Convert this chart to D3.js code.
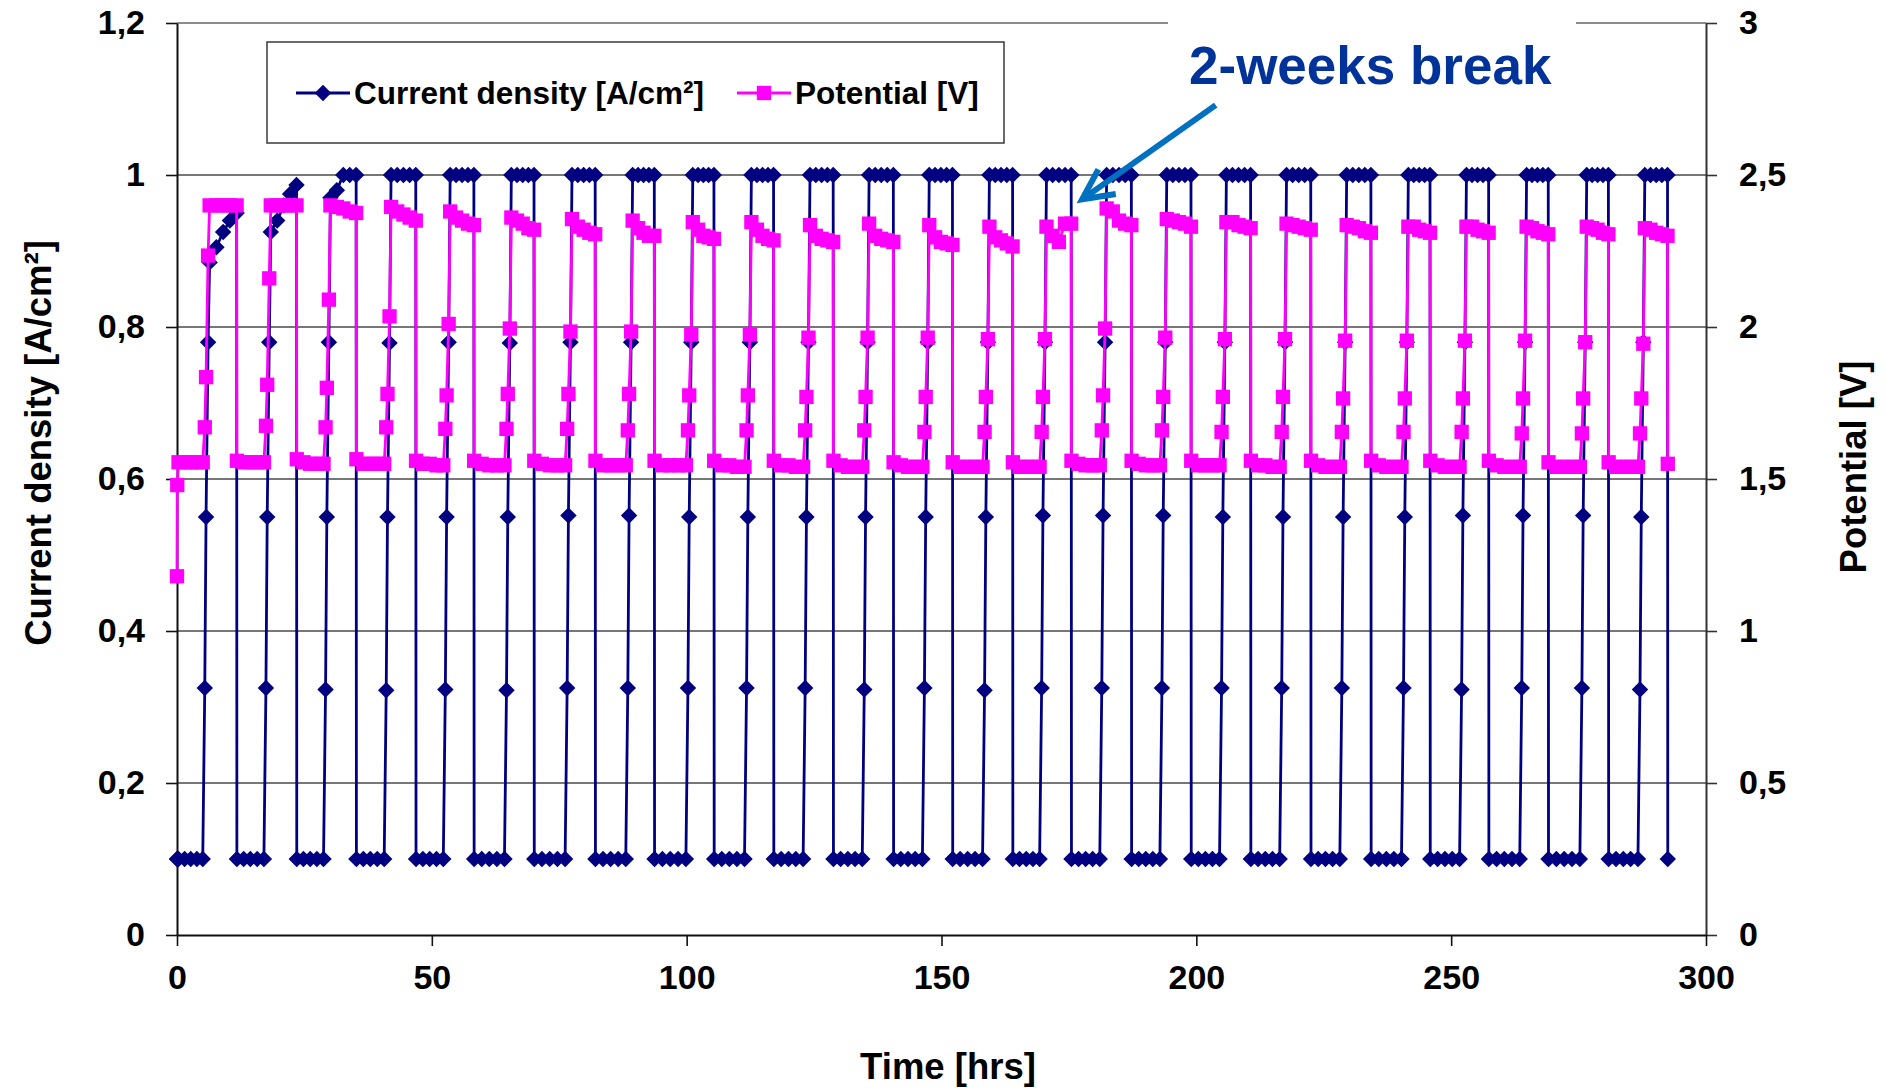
<!DOCTYPE html>
<html>
<head>
<meta charset="utf-8">
<script src="https://d3js.org/d3.v7.min.js"></script>
<style>
  body { margin: 0; background: #fff; }
  text { font-family: "Liberation Sans", Arial, sans-serif; font-weight: bold; }
</style>
</head>
<body>
<svg id="chart" width="1886" height="1088"></svg>
<script>
// ---- data (one row per on/off cycle) ----
const timeHrs = [
  0, 0.05, 0.3, 1.5, 2.7, 3.9, 5.05, 5.45, 5.7, 6.1, 6.4, 7.73, 9.05, 10.38, 11.7,
  11.75, 13.08, 14.4, 15.73, 17.05, 17.45, 17.7, 18.1, 18.4, 19.66, 20.93, 22.19, 23.45,
  23.5, 24.81, 26.13, 27.44, 28.75, 29.15, 29.4, 29.8, 30.1, 31.36, 32.63, 33.89, 35.15,
  35.2, 36.56, 37.93, 39.29, 40.65, 41.05, 41.3, 41.7, 42.0, 43.21, 44.43, 45.64, 46.85,
  46.9, 48.24, 49.58, 50.91, 52.25, 52.65, 52.9, 53.3, 53.6, 54.76, 55.93, 57.09, 58.25,
  58.3, 59.79, 61.28, 62.76, 64.25, 64.65, 64.9, 65.3, 65.6, 66.71, 67.83, 68.94, 70.05,
  70.1, 71.61, 73.13, 74.64, 76.15, 76.55, 76.8, 77.2, 77.5, 78.64, 79.78, 80.91, 82.05,
  82.1, 83.59, 85.08, 86.56, 88.05, 88.45, 88.7, 89.1, 89.4, 90.46, 91.53, 92.59, 93.65,
  93.7, 95.24, 96.78, 98.31, 99.85, 100.25, 100.5, 100.9, 101.2, 102.24, 103.28, 104.31, 105.35,
  105.4, 106.89, 108.38, 109.86, 111.35, 111.75, 112.0, 112.4, 112.7, 113.79, 114.88, 115.96, 117.05,
  117.1, 118.54, 119.98, 121.41, 122.85, 123.25, 123.5, 123.9, 124.2, 125.34, 126.48, 127.61, 128.75,
  128.8, 130.21, 131.63, 133.04, 134.45, 134.85, 135.1, 135.5, 135.8, 136.99, 138.18, 139.36, 140.55,
  140.6, 142.01, 143.43, 144.84, 146.25, 146.65, 146.9, 147.3, 147.6, 148.74, 149.88, 151.01, 152.15,
  152.2, 153.66, 155.13, 156.59, 158.05, 158.45, 158.7, 159.1, 159.4, 160.54, 161.68, 162.81, 163.95,
  164.0, 165.31, 166.63, 167.94, 169.25, 169.65, 169.9, 170.3, 170.6, 171.81, 173.03, 174.24, 175.45,
  175.5, 176.89, 178.28, 179.66, 181.05, 181.45, 181.7, 182.1, 182.4, 183.61, 184.83, 186.04, 187.25,
  187.3, 188.69, 190.08, 191.46, 192.85, 193.25, 193.5, 193.9, 194.2, 195.39, 196.58, 197.76, 198.95,
  199.0, 200.39, 201.78, 203.16, 204.55, 204.95, 205.2, 205.6, 205.9, 207.09, 208.28, 209.46, 210.65,
  210.7, 212.11, 213.53, 214.94, 216.35, 216.75, 217.0, 217.4, 217.7, 218.89, 220.08, 221.26, 222.45,
  222.5, 223.91, 225.33, 226.74, 228.15, 228.55, 228.8, 229.2, 229.5, 230.69, 231.88, 233.06, 234.25,
  234.3, 235.79, 237.28, 238.76, 240.25, 240.65, 240.9, 241.3, 241.6, 242.66, 243.73, 244.79, 245.85,
  245.9, 247.34, 248.78, 250.21, 251.65, 252.05, 252.3, 252.7, 253.0, 254.09, 255.18, 256.26, 257.35,
  257.4, 258.91, 260.43, 261.94, 263.45, 263.85, 264.1, 264.5, 264.8, 265.86, 266.93, 267.99, 269.05,
  269.1, 270.64, 272.18, 273.71, 275.25, 275.65, 275.9, 276.3, 276.6, 277.66, 278.73, 279.79, 280.85,
  280.9, 282.34, 283.78, 285.21, 286.65, 287.05, 287.3, 287.7, 288.0, 289.11, 290.23, 291.34, 292.45,
  292.5
];

const currentDensity = [
  0.1, 0.1, 0.1, 0.1, 0.1, 0.1, 0.1, 0.325, 0.55, 0.78, 0.885, 0.905, 0.925, 0.94, 0.95,
  0.1, 0.1, 0.1, 0.1, 0.1, 0.325, 0.55, 0.78, 0.925, 0.94, 0.96, 0.975, 0.987,
  0.1, 0.1, 0.1, 0.1, 0.1, 0.323, 0.55, 0.78, 0.97, 0.98, 1, 1, 1,
  0.1, 0.1, 0.1, 0.1, 0.1, 0.322, 0.55, 0.779, 1, 1, 1, 1, 1,
  0.1, 0.1, 0.1, 0.1, 0.1, 0.323, 0.55, 0.78, 1, 1, 1, 1, 1,
  0.1, 0.1, 0.1, 0.1, 0.1, 0.322, 0.55, 0.779, 1, 1, 1, 1, 1,
  0.1, 0.1, 0.1, 0.1, 0.1, 0.325, 0.552, 0.78, 1, 1, 1, 1, 1,
  0.1, 0.1, 0.1, 0.1, 0.1, 0.325, 0.552, 0.78, 1, 1, 1, 1, 1,
  0.1, 0.1, 0.1, 0.1, 0.1, 0.325, 0.55, 0.78, 1, 1, 1, 1, 1,
  0.1, 0.1, 0.1, 0.1, 0.1, 0.325, 0.55, 0.78, 1, 1, 1, 1, 1,
  0.1, 0.1, 0.1, 0.1, 0.1, 0.325, 0.55, 0.78, 1, 1, 1, 1, 1,
  0.1, 0.1, 0.1, 0.1, 0.1, 0.323, 0.55, 0.78, 1, 1, 1, 1, 1,
  0.1, 0.1, 0.1, 0.1, 0.1, 0.325, 0.55, 0.78, 1, 1, 1, 1, 1,
  0.1, 0.1, 0.1, 0.1, 0.1, 0.322, 0.55, 0.78, 1, 1, 1, 1, 1,
  0.1, 0.1, 0.1, 0.1, 0.1, 0.325, 0.552, 0.78, 1, 1, 1, 1, 1,
  0.1, 0.1, 0.1, 0.1, 0.1, 0.325, 0.552, 0.78, 1, 1, 1, 1, 1,
  0.1, 0.1, 0.1, 0.1, 0.1, 0.325, 0.552, 0.78, 1, 1, 1, 1, 1,
  0.1, 0.1, 0.1, 0.1, 0.1, 0.325, 0.55, 0.78, 1, 1, 1, 1, 1,
  0.1, 0.1, 0.1, 0.1, 0.1, 0.325, 0.55, 0.78, 1, 1, 1, 1, 1,
  0.1, 0.1, 0.1, 0.1, 0.1, 0.325, 0.55, 0.78, 1, 1, 1, 1, 1,
  0.1, 0.1, 0.1, 0.1, 0.1, 0.325, 0.55, 0.78, 1, 1, 1, 1, 1,
  0.1, 0.1, 0.1, 0.1, 0.1, 0.323, 0.552, 0.78, 1, 1, 1, 1, 1,
  0.1, 0.1, 0.1, 0.1, 0.1, 0.325, 0.552, 0.78, 1, 1, 1, 1, 1,
  0.1, 0.1, 0.1, 0.1, 0.1, 0.325, 0.552, 0.78, 1, 1, 1, 1, 1,
  0.1, 0.1, 0.1, 0.1, 0.1, 0.323, 0.55, 0.78, 1, 1, 1, 1, 1,
  0.1
];

const potentialV = [
  1.18, 1.48, 1.555, 1.555, 1.555, 1.555, 1.555, 1.67, 1.835, 2.235, 2.4, 2.4, 2.4, 2.4, 2.4,
  1.56, 1.555, 1.555, 1.555, 1.555, 1.675, 1.81, 2.16, 2.4, 2.4, 2.4, 2.4, 2.4,
  1.565, 1.555, 1.55, 1.55, 1.55, 1.67, 1.8, 2.09, 2.4, 2.395, 2.39, 2.38, 2.375,
  1.565, 1.55, 1.55, 1.55, 1.55, 1.67, 1.78, 2.035, 2.395, 2.38, 2.37, 2.36, 2.35,
  1.56, 1.55, 1.55, 1.545, 1.545, 1.665, 1.775, 2.01, 2.38, 2.36, 2.35, 2.34, 2.335,
  1.56, 1.55, 1.545, 1.545, 1.545, 1.665, 1.78, 1.995, 2.36, 2.35, 2.34, 2.325, 2.32,
  1.56, 1.55, 1.545, 1.545, 1.545, 1.665, 1.78, 1.985, 2.355, 2.33, 2.32, 2.31, 2.305,
  1.56, 1.545, 1.545, 1.545, 1.545, 1.66, 1.78, 1.985, 2.35, 2.325, 2.31, 2.3, 2.3,
  1.56, 1.545, 1.545, 1.545, 1.545, 1.66, 1.775, 1.975, 2.345, 2.32, 2.3, 2.295, 2.29,
  1.56, 1.545, 1.545, 1.54, 1.54, 1.66, 1.775, 1.975, 2.345, 2.32, 2.3, 2.29, 2.285,
  1.56, 1.545, 1.545, 1.54, 1.54, 1.66, 1.77, 1.965, 2.335, 2.3, 2.29, 2.285, 2.28,
  1.56, 1.545, 1.54, 1.54, 1.54, 1.66, 1.77, 1.965, 2.34, 2.3, 2.29, 2.285, 2.28,
  1.555, 1.545, 1.54, 1.54, 1.54, 1.655, 1.77, 1.965, 2.335, 2.295, 2.28, 2.275, 2.27,
  1.555, 1.54, 1.54, 1.54, 1.54, 1.655, 1.77, 1.96, 2.33, 2.295, 2.285, 2.275, 2.265,
  1.555, 1.54, 1.54, 1.54, 1.54, 1.655, 1.77, 1.96, 2.33, 2.3, 2.28, 2.34, 2.34,
  1.56, 1.55, 1.545, 1.545, 1.545, 1.66, 1.775, 1.995, 2.39, 2.38, 2.35, 2.34, 2.335,
  1.56, 1.55, 1.545, 1.545, 1.545, 1.66, 1.77, 1.965, 2.355, 2.35, 2.345, 2.34, 2.33,
  1.56, 1.545, 1.545, 1.545, 1.545, 1.655, 1.77, 1.96, 2.345, 2.345, 2.335, 2.33, 2.325,
  1.56, 1.545, 1.545, 1.54, 1.54, 1.655, 1.77, 1.96, 2.34, 2.335, 2.33, 2.325, 2.32,
  1.56, 1.545, 1.54, 1.54, 1.54, 1.655, 1.765, 1.955, 2.335, 2.33, 2.325, 2.315, 2.31,
  1.56, 1.545, 1.54, 1.54, 1.54, 1.655, 1.765, 1.955, 2.33, 2.33, 2.32, 2.315, 2.31,
  1.56, 1.545, 1.54, 1.54, 1.54, 1.655, 1.765, 1.955, 2.33, 2.33, 2.32, 2.315, 2.31,
  1.56, 1.545, 1.54, 1.54, 1.54, 1.65, 1.765, 1.955, 2.33, 2.325, 2.315, 2.31, 2.305,
  1.555, 1.54, 1.54, 1.54, 1.54, 1.65, 1.765, 1.95, 2.33, 2.325, 2.32, 2.31, 2.305,
  1.555, 1.54, 1.54, 1.54, 1.54, 1.65, 1.765, 1.945, 2.325, 2.32, 2.31, 2.305, 2.3,
  1.55
];

const timeTicks = [0, 50, 100, 150, 200, 250, 300];
const currentTicks = [0, 0.2, 0.4, 0.6, 0.8, 1, 1.2];
const potentialTicks = [0, 0.5, 1, 1.5, 2, 2.5, 3];

const seriesNames = ["Current density [A/cm\u00B2]", "Potential [V]"];
const seriesColors = ["#000080", "#FF00FF"];

// annotation arrow in data units (time, current density)
const breakLabel = "2-weeks break";
const arrowStart = [203.8, 1.092];
const arrowTip = [177.6, 0.968];

// ---- layout ----
const W = 1886, H = 1088;
const plot = { left: 177, right: 1706, top: 23, bottom: 935 };

const svg = d3.select("#chart");
svg.append("rect").attr("width", W).attr("height", H).attr("fill", "#fff");

const x = d3.scaleLinear().domain([0, 300]).range([plot.left, plot.right]);
const yL = d3.scaleLinear().domain([0, 1.2]).range([plot.bottom, plot.top]);
const yR = d3.scaleLinear().domain([0, 3]).range([plot.bottom, plot.top]);

const comma = d3.formatLocale({ decimal: ",", thousands: ".", grouping: [3], currency: ["", ""] });
const fmt = comma.format("~g");

// gridlines
svg.append("g")
  .selectAll("line")
  .data(currentTicks.filter(d => d > 0 && d < 1.2))
  .join("line")
  .attr("x1", plot.left).attr("x2", plot.right)
  .attr("y1", d => yL(d)).attr("y2", d => yL(d))
  .attr("stroke", "#4a4a4a").attr("stroke-width", 1.3);

// top frame line
svg.append("line")
  .attr("x1", plot.left).attr("x2", plot.right)
  .attr("y1", plot.top).attr("y2", plot.top)
  .attr("stroke", "#8c8c8c").attr("stroke-width", 2);

function styleAxis(g, color) {
  g.select(".domain").attr("stroke", color).attr("stroke-width", 2);
  g.selectAll(".tick line").attr("stroke", color).attr("stroke-width", 1.6);
  g.selectAll(".tick text")
    .attr("fill", "#000")
    .style("font-size", "34px")
    .style("font-weight", "bold")
    .style("font-family", '"Liberation Sans", Arial, sans-serif');
}

svg.append("g")
  .attr("transform", `translate(${plot.left},0)`)
  .call(d3.axisLeft(yL).tickValues(currentTicks).tickFormat(fmt)
    .tickSize(11).tickSizeOuter(0).tickPadding(21))
  .call(g => styleAxis(g, "#111"));

svg.append("g")
  .attr("transform", `translate(${plot.right},0)`)
  .call(d3.axisRight(yR).tickValues(potentialTicks).tickFormat(fmt)
    .tickSize(11).tickSizeOuter(0).tickPadding(22))
  .call(g => styleAxis(g, "#333"));

svg.append("g")
  .attr("transform", `translate(0,${plot.bottom})`)
  .call(d3.axisBottom(x).tickValues(timeTicks).tickFormat(fmt)
    .tickSize(11).tickSizeOuter(0).tickPadding(19))
  .call(g => styleAxis(g, "#111"));

// axis titles
svg.append("text")
  .attr("x", 948).attr("y", 1079)
  .attr("text-anchor", "middle")
  .style("font-size", "36.5px")
  .text("Time [hrs]");

svg.append("text")
  .attr("transform", "translate(51,443) rotate(-90)")
  .attr("text-anchor", "middle")
  .style("font-size", "36.5px")
  .text(seriesNames[0]);

svg.append("text")
  .attr("transform", "translate(1866,467) rotate(-90)")
  .attr("text-anchor", "middle")
  .style("font-size", "36.5px")
  .text(seriesNames[1]);

// ---- series ----
const points = timeHrs.map((t, i) => ({ t: t, j: currentDensity[i], v: potentialV[i] }));

const diamond = d3.symbol().type(d3.symbolSquare).size(135)();
const square = d3.symbol().type(d3.symbolSquare).size(205)();

svg.append("path")
  .datum(points)
  .attr("fill", "none")
  .attr("stroke", seriesColors[0])
  .attr("stroke-width", 2.8)
  .attr("stroke-linejoin", "round")
  .attr("d", d3.line().x(d => x(d.t)).y(d => yL(d.j)));

svg.append("g")
  .selectAll("path")
  .data(points)
  .join("path")
  .attr("d", diamond)
  .attr("transform", d => `translate(${x(d.t)},${yL(d.j)}) rotate(45)`)
  .attr("fill", seriesColors[0]);

svg.append("path")
  .datum(points)
  .attr("fill", "none")
  .attr("stroke", seriesColors[1])
  .attr("stroke-width", 2.8)
  .attr("stroke-linejoin", "round")
  .attr("d", d3.line().x(d => x(d.t)).y(d => yR(d.v)));

svg.append("g")
  .selectAll("path")
  .data(points)
  .join("path")
  .attr("d", square)
  .attr("transform", d => `translate(${x(d.t)},${yR(d.v)})`)
  .attr("fill", seriesColors[1]);

// ---- legend ----
const legend = svg.append("g");
legend.append("rect")
  .attr("x", 267).attr("y", 42).attr("width", 737).attr("height", 101)
  .attr("fill", "#fff").attr("stroke", "#3a3a3a").attr("stroke-width", 1.5);

const legendItems = [
  { name: seriesNames[0], color: seriesColors[0], marker: "diamond", x0: 296 },
  { name: seriesNames[1], color: seriesColors[1], marker: "square", x0: 737 }
];
const li = legend.selectAll("g.item").data(legendItems).join("g")
  .attr("class", "item")
  .attr("transform", d => `translate(${d.x0},93)`);
li.append("line").attr("x1", 0).attr("x2", 54).attr("y1", 0).attr("y2", 0)
  .attr("stroke", d => d.color).attr("stroke-width", 2.8);
li.append("path")
  .attr("d", d => d.marker === "diamond" ? diamond : square)
  .attr("transform", d => d.marker === "diamond" ? "translate(27,0) rotate(45)" : "translate(27,0)")
  .attr("fill", d => d.color);
li.append("text")
  .attr("x", 58).attr("y", 11)
  .style("font-size", "31.5px")
  .attr("fill", "#000")
  .text(d => d.name);

// ---- annotation ----
svg.append("rect")
  .attr("x", 1168).attr("y", 14).attr("width", 408).attr("height", 84)
  .attr("fill", "#fff");
svg.append("text")
  .attr("x", 1189).attr("y", 84)
  .style("font-size", "53px")
  .attr("fill", "#003399")
  .text(breakLabel);

const sx = x(arrowStart[0]), sy = yL(arrowStart[1]);
const tx = x(arrowTip[0]), ty = yL(arrowTip[1]);
const ang = Math.atan2(sy - ty, sx - tx);
const wing = 34, spread = 0.46;
svg.append("line")
  .attr("x1", sx).attr("y1", sy).attr("x2", tx + 3 * Math.cos(ang)).attr("y2", ty + 3 * Math.sin(ang))
  .attr("stroke", "#0070C0").attr("stroke-width", 6);
svg.append("path")
  .attr("d", `M${tx + wing * Math.cos(ang - spread)},${ty + wing * Math.sin(ang - spread)}L${tx},${ty}L${tx + wing * Math.cos(ang + spread)},${ty + wing * Math.sin(ang + spread)}`)
  .attr("fill", "none").attr("stroke", "#0070C0").attr("stroke-width", 6)
  .attr("stroke-linejoin", "miter");
</script>
</body>
</html>
